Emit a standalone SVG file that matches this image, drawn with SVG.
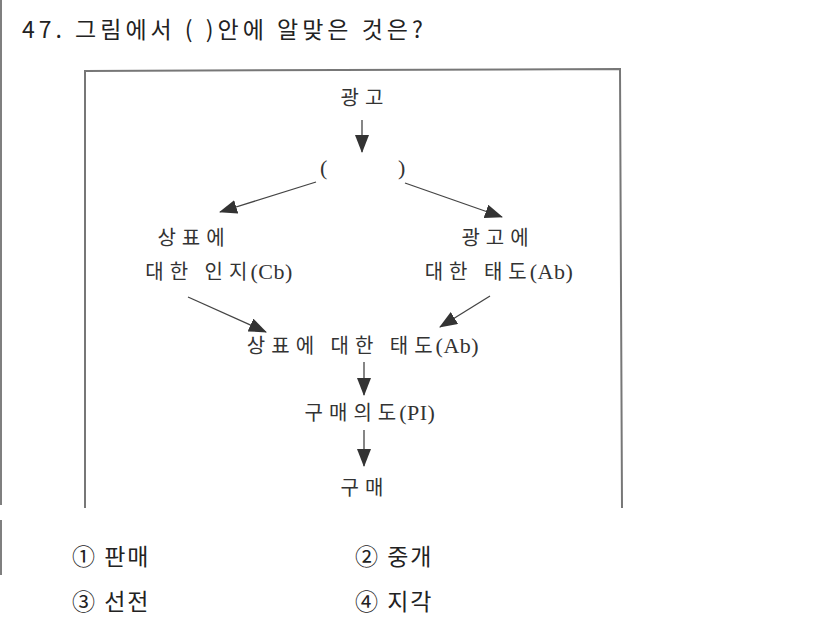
<svg xmlns="http://www.w3.org/2000/svg" width="826" height="620" viewBox="0 0 826 620">
<defs>
<marker id="ahb" markerWidth="18" markerHeight="14" refX="17" refY="7" orient="auto" markerUnits="userSpaceOnUse" viewBox="0 0 18 14">
<path d="M0,0 L18,7 L0,14 z" fill="#333"/>
</marker>
</defs>
<style>
.q{font-family:"Noto Sans CJK KR","Liberation Sans",sans-serif;font-size:23px;fill:#222;letter-spacing:4px}
.o{font-family:"Noto Sans CJK KR","Liberation Sans",sans-serif;font-size:23px;fill:#222;letter-spacing:2px}
.d{font-family:"Noto Sans CJK KR","Liberation Serif",serif;font-size:20px;fill:#333;text-anchor:middle;letter-spacing:6px}
.l{font-family:"Liberation Serif",serif;font-size:22px;letter-spacing:0.5px;fill:#333}
.c{stroke:#444;stroke-width:1.3;fill:none;marker-end:url(#ahb)}
.f{stroke:#777;stroke-width:2;fill:none}
</style>
<rect width="826" height="620" fill="#fff"/>
<line x1="1" y1="0" x2="1" y2="505" stroke="#555" stroke-width="1.5"/>
<line x1="1" y1="520" x2="1" y2="575" stroke="#555" stroke-width="1.5"/>
<text class="q" x="22" y="38">47. 그림에서 ( )안에 알맞은 것은?</text>
<g id="frame">
<polyline class="f" points="85,508 85,71 620,69 622,508"/>
</g>
<g id="n-ad"><text class="d" x="365" y="105">광고</text></g>
<g id="n-blank"><text class="d" x="324" y="175"><tspan class="l">(</tspan></text><text class="d" x="402" y="175"><tspan class="l">)</tspan></text></g>
<g id="n-cb"><text class="d" x="219" y="245" dx="-25">상표에</text><text class="d" x="219" y="279">대한 인지<tspan class="l" dx="-3">(Cb)</tspan></text></g>
<g id="n-aad"><text class="d" x="498" y="245">광고에</text><text class="d" x="499" y="279">대한 태도<tspan class="l" dx="-3">(Ab)</tspan></text></g>
<g id="n-ab"><text class="d" x="363" y="353">상표에 대한 태도<tspan class="l" dx="-3">(Ab)</tspan></text></g>
<g id="n-pi"><text class="d" x="370" y="420">구매의도<tspan class="l" dx="-3">(PI)</tspan></text></g>
<g id="n-buy"><text class="d" x="365" y="495">구매</text></g>
<g id="connectors">
<line class="c" x1="362" y1="120" x2="362" y2="152"/>
<line class="c" x1="316" y1="182" x2="220" y2="212"/>
<line class="c" x1="405" y1="183" x2="502" y2="217"/>
<line class="c" x1="188" y1="297" x2="266" y2="332"/>
<line class="c" x1="490" y1="296" x2="440" y2="327"/>
<line class="c" x1="364" y1="362" x2="364" y2="395"/>
<line class="c" x1="364" y1="430" x2="364" y2="466"/>
</g>
<g id="options">
<text class="o" x="72" y="565">① 판매</text>
<text class="o" x="355" y="565">② 중개</text>
<text class="o" x="72" y="610">③ 선전</text>
<text class="o" x="355" y="610">④ 지각</text>
</g>
</svg>
